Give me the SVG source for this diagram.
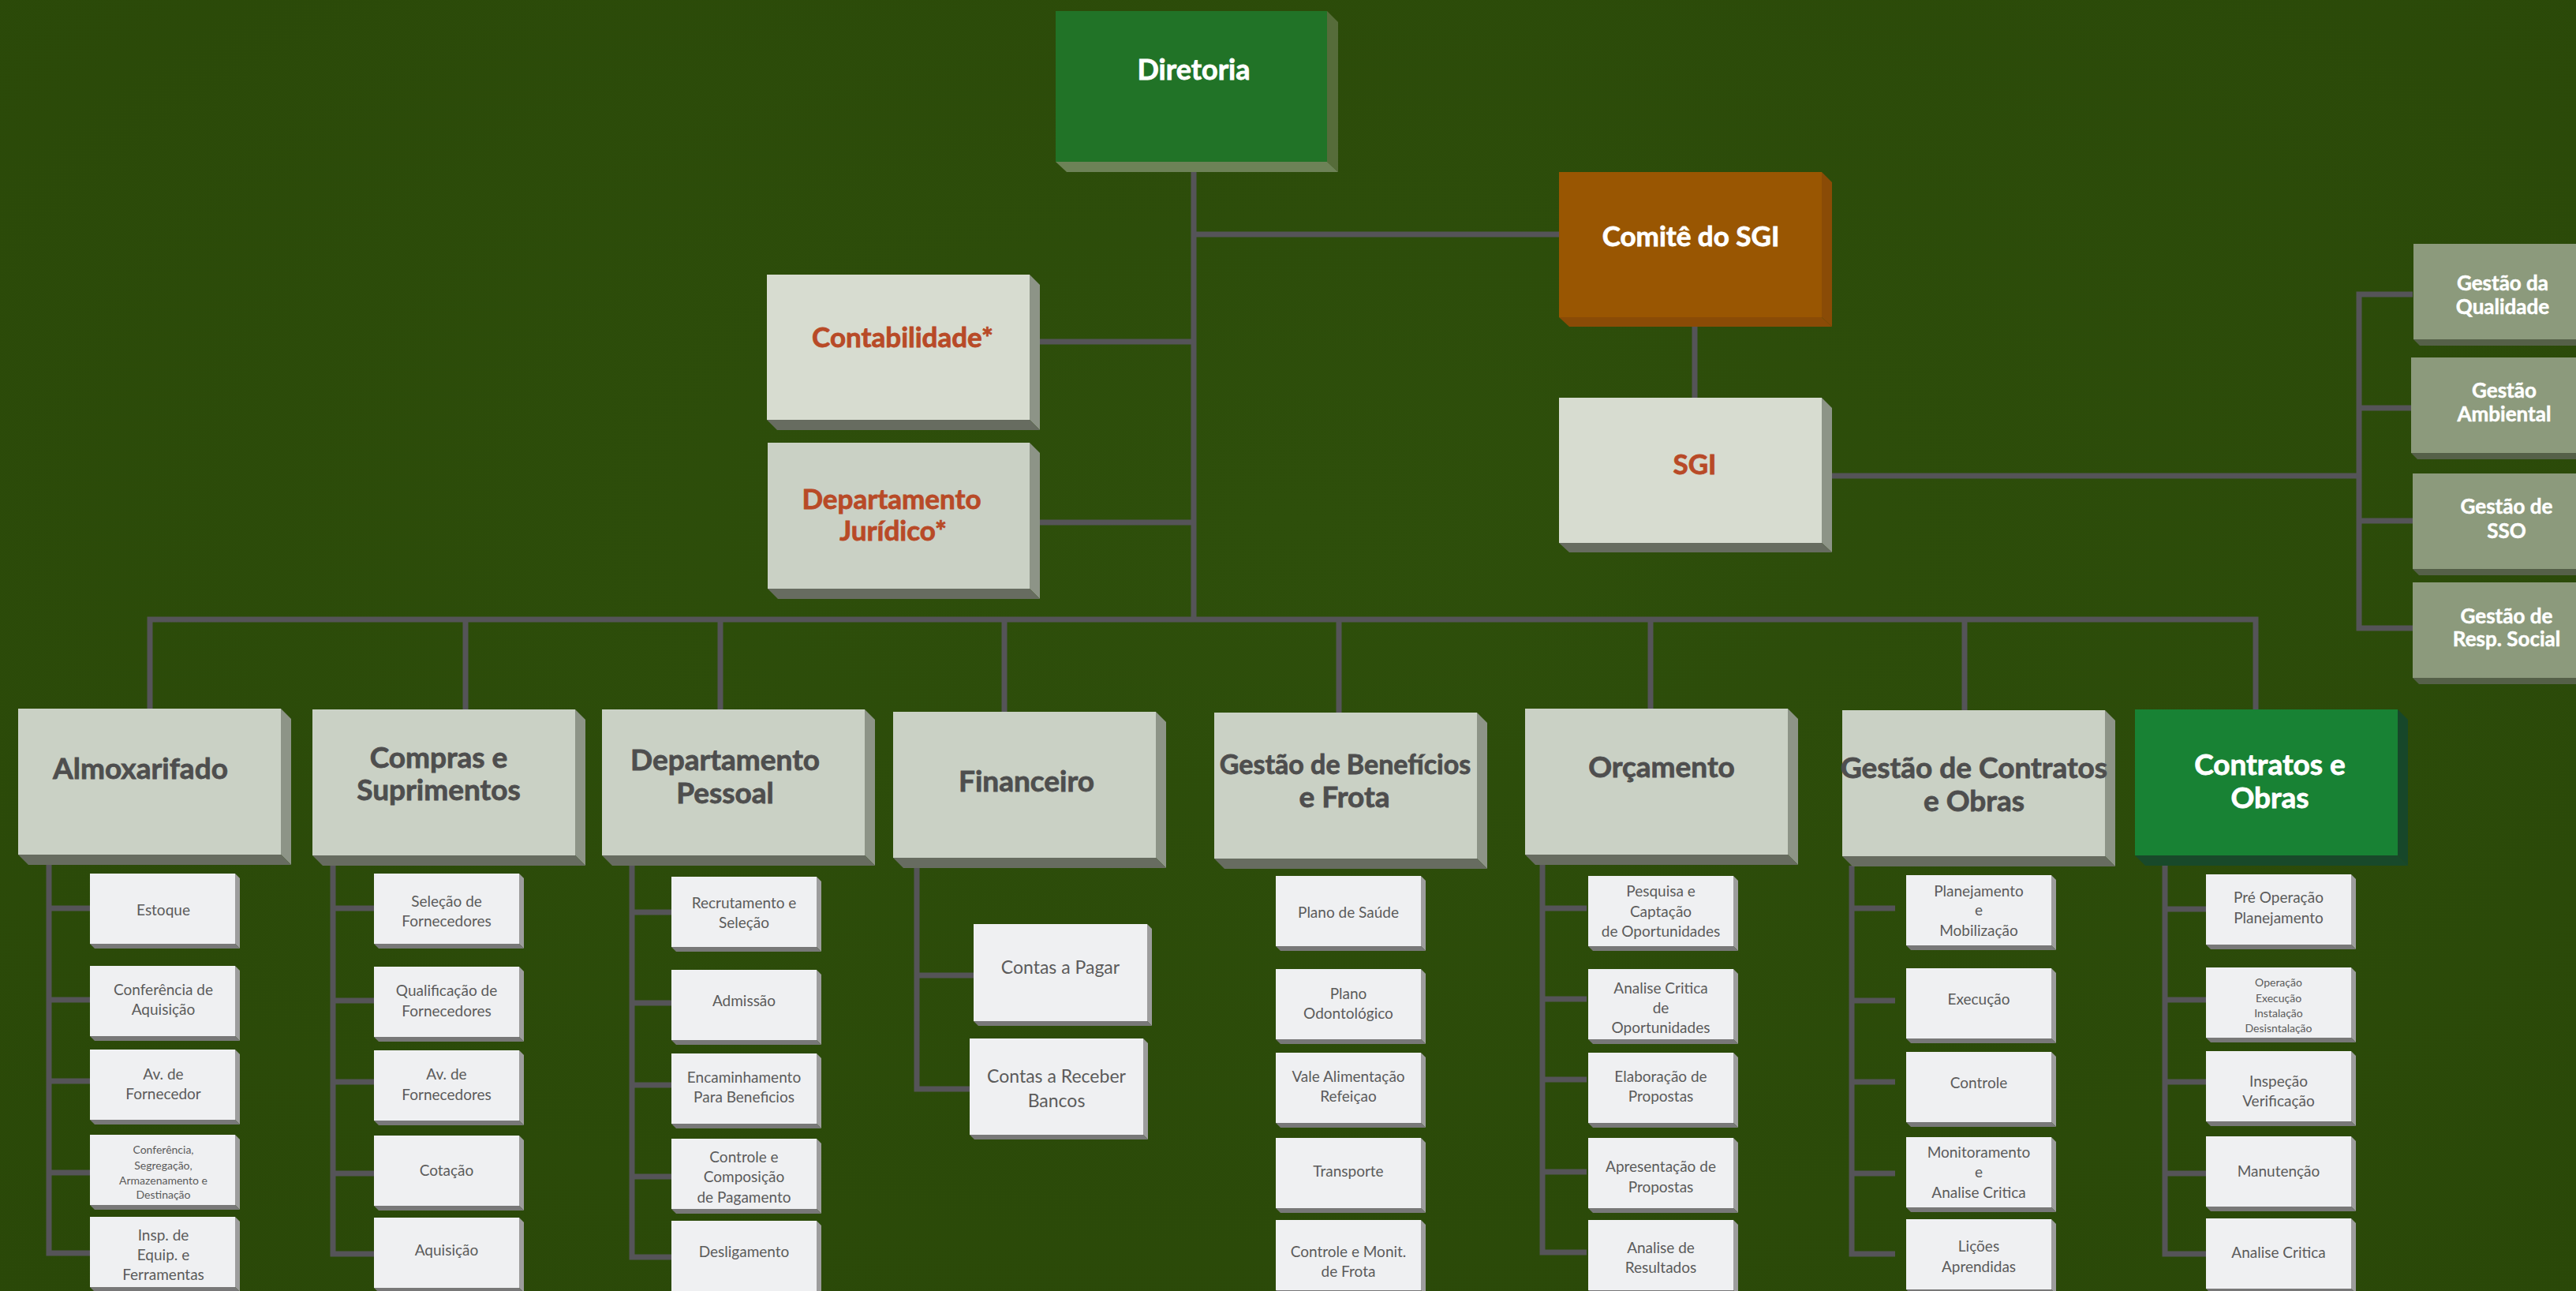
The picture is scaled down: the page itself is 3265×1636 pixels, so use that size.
<svg xmlns="http://www.w3.org/2000/svg" xmlns:xlink="http://www.w3.org/1999/xlink" width="3265" height="1636" viewBox="0 0 3265 1636">
<defs>
<radialGradient id="bg" cx="0.5" cy="0.4" r="0.8">
<stop offset="0" stop-color="#2e4f0b"/>
<stop offset="1" stop-color="#2a4808"/>
</radialGradient>
<g id="subbox"><polygon class="sr" points="184,0 190,6 190,95 184,89"/><polygon class="sb" points="0,89 184,89 190,95 6,95"/><rect class="sf" width="184" height="89"/></g>
<g id="hbox"><polygon class="hr" points="333,0 346,13 346,198 333,185"/><polygon class="hb" points="0,185 333,185 346,198 13,198"/><rect class="hf" width="333" height="185"/></g>
<g id="sidebox"><polygon class="gb" points="0,121 240,121 248,129 8,129"/><rect class="gf" width="240" height="121"/></g>
</defs>
<style>
.sf{fill:#eff0f2}.sr{fill:#9d9d9d}.sb{fill:#787878}
.hf{fill:#cad1c5}.hr{fill:#8d9487}.hb{fill:#676c60}
.lf{fill:#d7dcd0}
.gf{fill:#8c9a7c}.gb{fill:#556048}
.ln{fill:none;stroke:#555458;stroke-width:7;stroke-linejoin:miter}
text{font-family:Lato,"Open Sans","Liberation Sans",sans-serif;text-anchor:middle}
.h{font-weight:700;font-size:37px;fill:#4e4e4e;stroke:#4e4e4e;stroke-width:0.8}
.hn{font-size:34px}
.w{font-weight:700;fill:#ffffff;stroke:#ffffff;stroke-width:0.8}
.r{font-weight:700;font-size:35px;fill:#b84a27;stroke:#b84a27;stroke-width:0.8}
.s{font-size:19px;fill:#5b5b5b}
.xs{font-size:14px;fill:#5b5b5b}
.m{font-size:23px;fill:#5b5b5b}
.sd{font-weight:700;font-size:26px;fill:#ffffff;stroke:#ffffff;stroke-width:0.5}
</style>
<rect width="3265" height="1636" fill="url(#bg)"/>

<g id="connectors" class="ln">
<path d="M1513,218 V785"/>
<path d="M1513,297 H1976"/>
<path d="M1318,433 H1513"/>
<path d="M1318,662 H1513"/>
<path d="M190,899 V785 H2859 V899"/>
<path d="M590,785 V899 M913,785 V899 M1273,785 V902 M1697,785 V903 M2092,785 V898 M2490,785 V900"/>
<path d="M2148,414 V504"/>
<path d="M2322,603 H2990"/>
<path d="M3058,373 H2990 V796 H3058 M2990,517 H3058 M2990,660 H3058"/>
<path d="M62,1095 V1588 H116 M62,1151 H116 M62,1267 H116 M62,1370 H116 M62,1486 H116"/>
<path d="M422,1097 V1589 H477 M422,1151 H477 M422,1268 H477 M422,1371 H477 M422,1487 H477"/>
<path d="M801,1096 V1593 H854 M801,1156 H854 M801,1271 H854 M801,1375 H854 M801,1491 H854"/>
<path d="M1162,1099 V1380 H1238 M1162,1236 H1238"/>
<path d="M1955,1096 V1587 H2011 M1955,1151 H2011 M1955,1266 H2011 M1955,1368 H2011 M1955,1485 H2011"/>
<path d="M2347,1097 V1589 H2402 M2347,1151 H2402 M2347,1268 H2402 M2347,1371 H2402 M2347,1487 H2402"/>
<path d="M2744,1096 V1589 H2798 M2744,1152 H2798 M2744,1267 H2798 M2744,1371 H2798 M2744,1487 H2798"/>
</g>

<g id="diretoria">
<polygon fill="#566c3a" points="1682,14 1696,28 1696,218 1682,205"/>
<polygon fill="#6d8257" points="1338,205 1682,205 1696,218 1352,218"/>
<rect x="1338" y="14" width="344" height="191" fill="#217327"/>
<text class="w" x="1513" y="101" font-size="36">Diretoria</text>
</g>

<g id="comite">
<polygon fill="#8a4b06" points="2309,218 2322,231 2322,414 2309,402"/>
<polygon fill="#8a4b06" points="1976,402 2309,402 2322,414 1989,414"/>
<rect x="1976" y="218" width="333" height="184" fill="#995602"/>
<text class="w" x="2143" y="312" font-size="35">Comitê do SGI</text>
</g>

<g id="sgi">
<polygon class="hr" points="2309,504 2322,517 2322,700 2309,688"/>
<polygon class="hb" points="1976,688 2309,688 2322,700 1989,700"/>
<rect class="lf" x="1976" y="504" width="333" height="184"/>
<text class="r" x="2148" y="601">SGI</text>
</g>

<g id="contabilidade">
<polygon class="hr" points="1305,348 1318,361 1318,545 1305,532"/>
<polygon class="hb" points="972,532 1305,532 1318,545 985,545"/>
<rect class="lf" x="972" y="348" width="333" height="184"/>
<text class="r" x="1144" y="440">Contabilidade*</text>
</g>

<g id="juridico">
<polygon class="hr" points="1305,561 1318,574 1318,759 1305,746"/>
<polygon class="hb" points="973,746 1305,746 1318,759 986,759"/>
<rect class="hf" x="973" y="561" width="332" height="185"/>
<text class="r" x="1130" y="645">Departamento</text>
<text class="r" x="1132" y="685">Jurídico*</text>
</g>

<g id="gestao-qualidade"><use href="#sidebox" x="3059" y="309"/><text class="sd" x="3172" y="368">Gestão da</text><text class="sd" x="3172" y="398">Qualidade</text></g>
<g id="gestao-ambiental"><use href="#sidebox" x="3056" y="453"/><text class="sd" x="3174" y="504">Gestão</text><text class="sd" x="3174" y="534">Ambiental</text></g>
<g id="gestao-sso"><use href="#sidebox" x="3058" y="600"/><text class="sd" x="3177" y="651">Gestão de</text><text class="sd" x="3177" y="682">SSO</text></g>
<g id="gestao-resp-social"><use href="#sidebox" x="3058" y="738"/><text class="sd" x="3177" y="790">Gestão de</text><text class="sd" x="3177" y="819">Resp. Social</text></g>

<g id="almoxarifado"><use href="#hbox" x="23" y="898"/><text class="h" x="178" y="987">Almoxarifado</text></g>
<g id="compras"><use href="#hbox" x="396" y="899"/><text class="h" x="556" y="973">Compras e</text><text class="h" x="556" y="1014">Suprimentos</text></g>
<g id="dep-pessoal"><use href="#hbox" x="763" y="899"/><text class="h" x="919" y="976">Departamento</text><text class="h" x="919" y="1018">Pessoal</text></g>
<g id="financeiro"><use href="#hbox" x="1132" y="902"/><text class="h" x="1301" y="1003">Financeiro</text></g>
<g id="gestao-beneficios"><use href="#hbox" x="1539" y="903"/><text class="h hn" x="1705" y="981">Gestão de Benefícios</text><text class="h" x="1704" y="1023">e Frota</text></g>
<g id="orcamento"><use href="#hbox" x="1933" y="898"/><text class="h" x="2106" y="985">Orçamento</text></g>
<g id="gestao-contratos"><use href="#hbox" x="2335" y="900"/><text class="h" x="2502" y="986">Gestão de Contratos</text><text class="h" x="2502" y="1028">e Obras</text></g>
<g id="contratos-obras">
<polygon fill="#17472a" points="3039,899 3052,912 3052,1097 3039,1084"/>
<polygon fill="#18492a" points="2706,1084 3039,1084 3052,1097 2719,1097"/>
<rect x="2706" y="899" width="333" height="185" fill="#188234"/>
<text class="w" x="2877" y="982" font-size="37">Contratos e</text><text class="w" x="2877" y="1024" font-size="37">Obras</text>
</g>

<g id="almox-estoque"><use href="#subbox" x="114" y="1107"/><text class="s" x="207" y="1160">Estoque</text></g>
<g id="almox-conferencia"><use href="#subbox" x="114" y="1224"/><text class="s" x="207" y="1261">Conferência de</text><text class="s" x="207" y="1286">Aquisição</text></g>
<g id="almox-av"><use href="#subbox" x="114" y="1330"/><text class="s" x="207" y="1368">Av. de</text><text class="s" x="207" y="1393">Fornecedor</text></g>
<g id="almox-segregacao"><use href="#subbox" x="114" y="1438"/><text class="xs" x="207" y="1462">Conferência,</text><text class="xs" x="207" y="1482">Segregação,</text><text class="xs" x="207" y="1501">Armazenamento e</text><text class="xs" x="207" y="1519">Destinação</text></g>
<g id="almox-insp"><use href="#subbox" x="114" y="1542"/><text class="s" x="207" y="1572">Insp. de</text><text class="s" x="207" y="1597">Equip. e</text><text class="s" x="207" y="1622">Ferramentas</text></g>

<g id="compras-selecao"><use href="#subbox" x="474" y="1107"/><text class="s" x="566" y="1149">Seleção de</text><text class="s" x="566" y="1174">Fornecedores</text></g>
<g id="compras-qualificacao"><use href="#subbox" x="474" y="1225"/><text class="s" x="566" y="1262">Qualificação de</text><text class="s" x="566" y="1288">Fornecedores</text></g>
<g id="compras-av"><use href="#subbox" x="474" y="1331"/><text class="s" x="566" y="1368">Av. de</text><text class="s" x="566" y="1394">Fornecedores</text></g>
<g id="compras-cotacao"><use href="#subbox" x="474" y="1439"/><text class="s" x="566" y="1490">Cotação</text></g>
<g id="compras-aquisicao"><use href="#subbox" x="474" y="1543"/><text class="s" x="566" y="1591">Aquisição</text></g>

<g id="dp-recrutamento"><use href="#subbox" x="851" y="1111"/><text class="s" x="943" y="1151">Recrutamento e</text><text class="s" x="943" y="1176">Seleção</text></g>
<g id="dp-admissao"><use href="#subbox" x="851" y="1229"/><text class="s" x="943" y="1275">Admissão</text></g>
<g id="dp-encaminhamento"><use href="#subbox" x="851" y="1335"/><text class="s" x="943" y="1372">Encaminhamento</text><text class="s" x="943" y="1397">Para Beneficios</text></g>
<g id="dp-controle"><use href="#subbox" x="851" y="1443"/><text class="s" x="943" y="1473">Controle e</text><text class="s" x="943" y="1498">Composição</text><text class="s" x="943" y="1524">de Pagamento</text></g>
<g id="dp-desligamento"><use href="#subbox" x="851" y="1547"/><text class="s" x="943" y="1593">Desligamento</text></g>

<g id="fin-pagar">
<polygon class="sr" points="1454,1171 1460,1177 1460,1300 1454,1294"/><polygon class="sb" points="1234,1294 1454,1294 1460,1300 1240,1300"/><rect class="sf" x="1234" y="1171" width="220" height="123"/>
<text class="m" x="1344" y="1234">Contas a Pagar</text>
</g>
<g id="fin-receber">
<polygon class="sr" points="1449,1316 1455,1322 1455,1444 1449,1438"/><polygon class="sb" points="1229,1438 1449,1438 1455,1444 1235,1444"/><rect class="sf" x="1229" y="1316" width="220" height="122"/>
<text class="m" x="1339" y="1372">Contas a Receber</text><text class="m" x="1339" y="1403">Bancos</text>
</g>

<g id="gb-saude"><use href="#subbox" x="1617" y="1110"/><text class="s" x="1709" y="1163">Plano de Saúde</text></g>
<g id="gb-odonto"><use href="#subbox" x="1617" y="1228"/><text class="s" x="1709" y="1266">Plano</text><text class="s" x="1709" y="1291">Odontológico</text></g>
<g id="gb-vale"><use href="#subbox" x="1617" y="1334"/><text class="s" x="1709" y="1371">Vale Alimentação</text><text class="s" x="1709" y="1396">Refeiçao</text></g>
<g id="gb-transporte"><use href="#subbox" x="1617" y="1442"/><text class="s" x="1709" y="1491">Transporte</text></g>
<g id="gb-frota"><use href="#subbox" x="1617" y="1546"/><text class="s" x="1709" y="1593">Controle e Monit.</text><text class="s" x="1709" y="1618">de Frota</text></g>

<g id="orc-pesquisa"><use href="#subbox" x="2013" y="1110"/><text class="s" x="2105" y="1136">Pesquisa e</text><text class="s" x="2105" y="1162">Captação</text><text class="s" x="2105" y="1187">de Oportunidades</text></g>
<g id="orc-analise"><use href="#subbox" x="2013" y="1228"/><text class="s" x="2105" y="1259">Analise Critica</text><text class="s" x="2105" y="1284">de</text><text class="s" x="2105" y="1309">Oportunidades</text></g>
<g id="orc-elaboracao"><use href="#subbox" x="2013" y="1334"/><text class="s" x="2105" y="1371">Elaboração de</text><text class="s" x="2105" y="1396">Propostas</text></g>
<g id="orc-apresentacao"><use href="#subbox" x="2013" y="1442"/><text class="s" x="2105" y="1485">Apresentação de</text><text class="s" x="2105" y="1511">Propostas</text></g>
<g id="orc-resultados"><use href="#subbox" x="2013" y="1546"/><text class="s" x="2105" y="1588">Analise de</text><text class="s" x="2105" y="1613">Resultados</text></g>

<g id="gco-planejamento"><use href="#subbox" x="2416" y="1109"/><text class="s" x="2508" y="1136">Planejamento</text><text class="s" x="2508" y="1160">e</text><text class="s" x="2508" y="1186">Mobilização</text></g>
<g id="gco-execucao"><use href="#subbox" x="2416" y="1227"/><text class="s" x="2508" y="1273">Execução</text></g>
<g id="gco-controle"><use href="#subbox" x="2416" y="1333"/><text class="s" x="2508" y="1379">Controle</text></g>
<g id="gco-monitoramento"><use href="#subbox" x="2416" y="1441"/><text class="s" x="2508" y="1467">Monitoramento</text><text class="s" x="2508" y="1492">e</text><text class="s" x="2508" y="1518">Analise Critica</text></g>
<g id="gco-licoes"><use href="#subbox" x="2416" y="1545"/><text class="s" x="2508" y="1586">Lições</text><text class="s" x="2508" y="1612">Aprendidas</text></g>

<g id="co-preoperacao"><use href="#subbox" x="2796" y="1108"/><text class="s" x="2888" y="1144">Pré Operação</text><text class="s" x="2888" y="1170">Planejamento</text></g>
<g id="co-operacao"><use href="#subbox" x="2796" y="1226"/><text class="xs" x="2888" y="1250">Operação</text><text class="xs" x="2888" y="1270">Execução</text><text class="xs" x="2888" y="1289">Instalação</text><text class="xs" x="2888" y="1308">Desisntalação</text></g>
<g id="co-inspecao"><use href="#subbox" x="2796" y="1332"/><text class="s" x="2888" y="1377">Inspeção</text><text class="s" x="2888" y="1402">Verificação</text></g>
<g id="co-manutencao"><use href="#subbox" x="2796" y="1440"/><text class="s" x="2888" y="1491">Manutenção</text></g>
<g id="co-analise"><use href="#subbox" x="2796" y="1544"/><text class="s" x="2888" y="1594">Analise Critica</text></g>
</svg>
